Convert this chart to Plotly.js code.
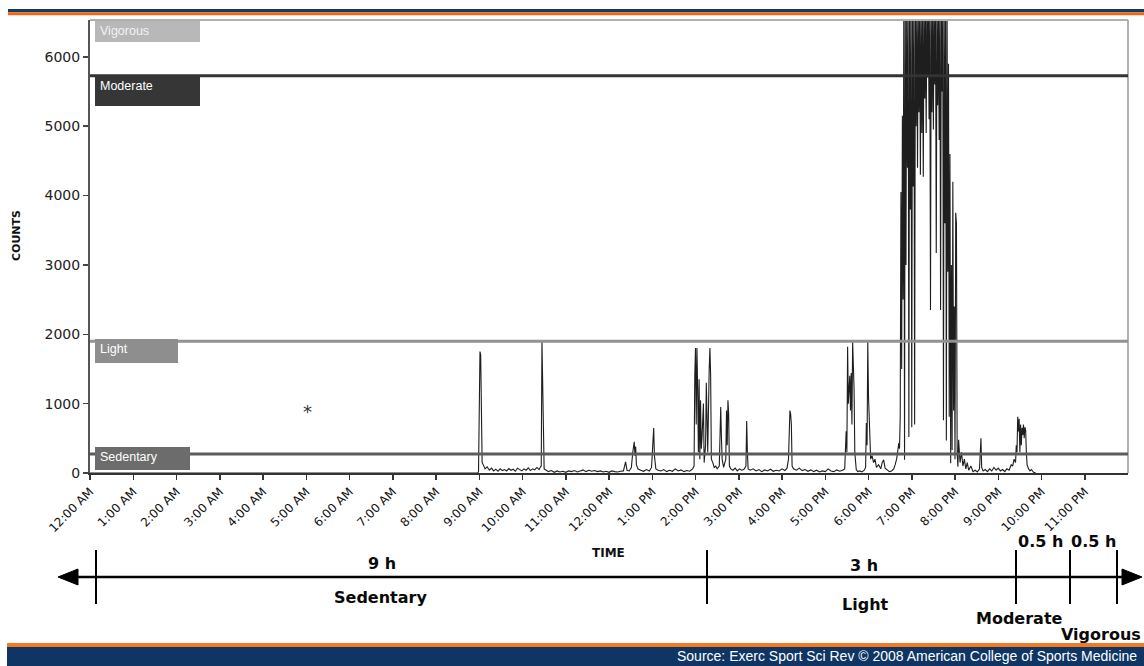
<!DOCTYPE html>
<html><head><meta charset="utf-8">
<script src="https://cdn.plot.ly/plotly-3.0.1.min.js"></script>
<style>html,body{margin:0;padding:0;background:#fff;overflow:hidden}#chart{width:1144px;height:666px}</style>
</head><body><div id="chart"></div>
<script>
// ---- data (minutes since midnight, accelerometer counts) ----
const minutes = [0,538,
 539,540,541,542,543,544,546,548,551,554,557,560,563,566,569,572,575,578,581,584,587,590,593,596,599,602,605,608,611,614,617,620,623,625,
 626,627,628,629,630,633,636,640,644,648,652,656,660,664,668,672,676,680,684,688,692,696,700,704,708,712,716,720,724,728,732,736,740,
 743,745,748,751,753,755,756,757,758,760,764,768,772,776,779,781,782,783,785,788,792,796,800,804,808,812,816,820,824,828,832,836,
 838,839,840,841,842,843,844,845,846,847,848,849,851,852,854,855,856,857,859,860,861,862,864,866,868,870,873,875,876,877,879,882,883,884,885,886,887,889,892,895,898,901,904,907,
 910,911,912,913,916,920,924,928,932,936,940,944,948,952,956,960,964,967,
 969,970,971,972,973,974,976,980,984,988,992,996,1000,1004,1008,1012,1016,1020,1024,1028,1032,1036,1040,1044,
 1047,1049,1050,1051,1052,1054,1055,1056,1057,1058,1059,1060,1061,1062,1063,1065,1068,1071,1074,1076,1077,1078,1079,1080,1081,1082,1083,1085,1087,1089,1091,1094,1097,1099,1101,1103,1106,1109,1112,1115,1117,1119,1121,
 1122,1123,1124,1125,1126,1127,1128,1129,1130,1131,1132,1133,1134,1135,1136,1137,1138,1139,1140,1141,1142,1143,1144,1145,1146,1147,1148,1149,1150,1151,1152,1153,1154,1155,1156,1157,1158,1159,1160,1161,1162,1163,1164,1165,1166,1167,1168,1169,1170,1171,1172,1173,1174,1175,1176,1177,1178,1179,1180,1181,1182,1183,1184,1185,1186,1187,1188,1189,1190,1191,1192,1193,1194,1195,1196,1197,1198,1199,1200,1201,1202,1203,1204,1205,
 1207,1209,1211,1213,1215,1217,1219,1222,1225,1228,1231,1234,1236,1237,1239,1242,1245,1248,1251,1254,1257,1260,1263,1266,1269,1272,1275,
 1278,1280,1282,1284,1285,1286,1287,1288,1289,1290,1291,1292,1293,1294,1295,1296,1297,1298,1299,1300,1302,1304,1306,1309,1312];
const counts = [0,0,
 20,1600,1750,1700,600,150,110,60,90,40,70,30,55,25,60,35,50,30,65,40,55,25,70,45,30,60,40,75,35,60,45,80,50,90,
 100,1900,1200,300,60,40,20,35,10,30,15,25,10,30,20,35,15,30,45,20,40,25,35,20,30,15,25,10,30,20,15,25,30,
 160,40,30,80,300,450,250,380,120,60,40,25,50,30,80,400,650,250,60,40,30,50,20,40,25,60,30,45,20,35,25,60,
 100,1400,1800,700,1800,1200,300,1350,200,1050,350,500,1000,150,400,1300,700,300,1500,1800,1400,200,150,80,100,60,100,950,500,200,80,200,900,400,1050,850,100,60,40,70,30,60,40,50,
 100,750,300,60,40,60,30,50,20,45,30,55,25,40,30,60,35,70,
 200,800,900,850,700,100,60,40,70,35,50,25,45,20,40,15,30,20,60,30,20,45,25,40,
 60,600,300,1820,1000,1400,900,1440,700,1890,1600,1200,300,100,50,20,30,15,40,80,720,400,1890,1100,700,350,200,250,150,200,80,120,60,150,190,70,40,20,30,60,120,200,350,
 430,350,800,4050,1500,5150,2500,6700,190,6700,3000,6700,4400,6700,520,6700,3800,6700,660,6700,4130,6700,700,6700,5000,6700,4400,6700,5200,6700,4300,6700,4900,6700,4270,6700,5400,6700,4900,6700,5700,6700,5100,6700,2350,6700,5200,6700,4950,6700,5600,6700,3170,6700,5300,6700,4800,6700,2350,6700,5500,6700,760,6700,3600,6700,470,6700,2900,5900,810,4600,140,3000,330,4200,900,2400,200,3750,3600,300,90,480,
 150,300,100,200,60,150,40,100,20,40,15,60,500,80,30,50,20,60,30,80,40,70,30,50,20,60,40,
 120,100,200,150,400,300,810,600,780,300,700,400,650,550,700,500,660,620,300,120,60,30,50,10,0];

const tickMinutes = [0,60,120,180,240,300,360,420,480,540,600,660,720,780,840,900,960,1020,1080,1140,1200,1260,1320,1380];
const tickLabels = ["12:00 AM","1:00 AM","2:00 AM","3:00 AM","4:00 AM","5:00 AM","6:00 AM","7:00 AM","8:00 AM","9:00 AM","10:00 AM","11:00 AM",
 "12:00 PM","1:00 PM","2:00 PM","3:00 PM","4:00 PM","5:00 PM","6:00 PM","7:00 PM","8:00 PM","9:00 PM","10:00 PM","11:00 PM"];
const yTicks = [0,1000,2000,3000,4000,5000,6000];
const intensityNames = ["Sedentary","Light","Moderate","Vigorous"];
const cutpoints = [275,1900,5725];
const zoneDurations = ["9 h","3 h","0.5 h","0.5 h"];
const sourceText = "Source: Exerc Sport Sci Rev © 2008 American College of Sports Medicine";

// ---- geometry helpers (pixel -> paper) ----
const L=90,R=1128,T=20,B=473;
const px=x=>(x-L)/(R-L), py=y=>(B-y)/(B-T);
const shapes=[], ann=[];
function rect(x0,y0,x1,y1,fill,layer){shapes.push({type:'rect',xref:'paper',yref:'paper',x0:px(x0),x1:px(x1),y0:py(y1),y1:py(y0),fillcolor:fill,line:{width:0},layer:layer||'above'});}
function seg(x0,y0,x1,y1,color,w){shapes.push({type:'line',xref:'paper',yref:'paper',x0:px(x0),x1:px(x1),y0:py(y0),y1:py(y1),line:{color:color,width:w}});}
function tri(pts,color){shapes.push({type:'path',xref:'paper',yref:'paper',path:'M'+pts.map(p=>px(p[0])+','+py(p[1])).join(' L')+' Z',fillcolor:color,line:{color:color,width:1}});}
function txt(x,y,t,size,opts){ann.push(Object.assign({xref:'paper',yref:'paper',x:px(x),y:py(y),xanchor:'center',yanchor:'middle',text:t,showarrow:false,font:{family:'DejaVu Sans',size:size,color:'#111'}},opts||{}));}

// header / footer bands
rect(8,9,1144,12.3,'#163a62');
rect(8,12.3,1144,15.3,'#f2681a');
rect(7,643,1144,647,'#f47a22');
rect(7,647,1144,666,'#0e3563');
// plot frame (top & right)
seg(L,T,R,T,'#b0b0b0',2);
seg(R,T,R,B,'#b0b0b0',2);
// cutpoint lines
const cutColors=['#5c5c5c','#929292','#333333'];
cutpoints.forEach((v,i)=>shapes.push({type:'line',xref:'paper',yref:'y',x0:0,x1:1,y0:v,y1:v,line:{color:cutColors[i],width:3},layer:'above'}));
// intensity label boxes
const boxes=[[95,447,190,470,'#6c6c6c'],[95,339,178,363,'#8e8e8e'],[95,76,200,106,'#363636'],[95,21,200,42,'#b8b8b8']];
boxes.forEach((b,i)=>{rect(b[0],b[1],b[2],b[3],b[4]);txt(b[0]+3,b[1]+1,intensityNames[i],12,{xanchor:'left',yanchor:'top',font:{family:'Liberation Sans',size:12.5,color:i===3?'#f2f2f2':'#ffffff'}});});
// asterisk
txt(307,411,'*',18,{font:{family:'DejaVu Sans',size:18,color:'#333'}});
// axis titles
txt(16,236,'<b>COUNTS</b>',11,{textangle:-90});
txt(608,553,'<b>TIME</b>',12);
// bottom timeline
seg(70,577,1130,577,'#000',2.5);
tri([[58,577],[78,569],[78,585]],'#000');
tri([[1142,577],[1122,569],[1122,585]],'#000');
[96,707,1016,1070,1117].forEach(x=>seg(x,550,x,604,'#000',2));
const big={family:'DejaVu Sans',size:16,color:'#0a0a0a'};
txt(382,563,'<b>'+zoneDurations[0]+'</b>',16,{font:big});
txt(380,597,'<b>'+intensityNames[0]+'</b>',16,{font:big});
txt(864,565,'<b>'+zoneDurations[1]+'</b>',16,{font:big});
txt(865,604,'<b>'+intensityNames[1]+'</b>',16,{font:big});
txt(1040,541,'<b>'+zoneDurations[2]+'</b>',16,{font:big});
txt(1093,541,'<b>'+zoneDurations[3]+'</b>',16,{font:big});
txt(1019,618,'<b>'+intensityNames[2]+'</b>',16,{font:big});
txt(1101,634,'<b>'+intensityNames[3]+'</b>',16,{font:big});
// source
txt(1139,656,sourceText,14,{xanchor:'right',font:{family:'Liberation Sans',size:14,color:'#ffffff'}});

const trace={x:minutes,y:counts,type:'scatter',mode:'lines',line:{color:'#1e1e1e',width:1.1},hoverinfo:'skip',showlegend:false};

const layout={width:1144,height:666,margin:{l:L,r:1144-R,t:T,b:666-B},paper_bgcolor:'#fff',plot_bgcolor:'#fff',showlegend:false,
 xaxis:{range:[0,1440],tickmode:'array',tickvals:tickMinutes,ticktext:tickLabels,tickangle:-45,ticks:'outside',ticklen:5,tickwidth:1.5,tickcolor:'#333',
  showline:true,linecolor:'#333',linewidth:2,showgrid:false,zeroline:false,automargin:false,tickfont:{family:'DejaVu Sans',size:12,color:'#111'}},
 yaxis:{range:[0,6530],tickmode:'array',tickvals:yTicks,ticks:'outside',ticklen:5,tickwidth:1.5,tickcolor:'#444',
  showline:true,linecolor:'#555',linewidth:2,showgrid:false,zeroline:false,automargin:false,tickfont:{family:'DejaVu Sans',size:14,color:'#222'}},
 shapes:shapes,annotations:ann};
Plotly.newPlot('chart',[trace],layout,{displayModeBar:false,staticPlot:true});
</script></body></html>
